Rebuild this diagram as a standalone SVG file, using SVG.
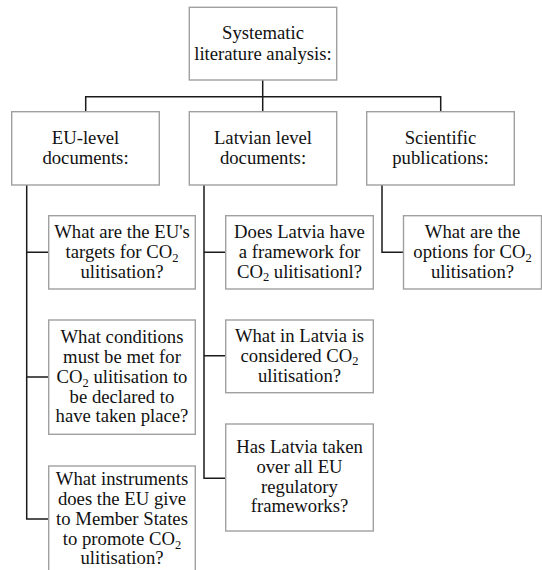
<svg xmlns="http://www.w3.org/2000/svg" width="542" height="570" viewBox="0 0 542 570">
<style>
.box{fill:#fff;stroke:#a0a0a0;stroke-width:1.4}
.t{font-family:'Liberation Serif','Times New Roman',Times,'DejaVu Serif',serif;font-size:18.7px;fill:#111;text-anchor:middle}
.sub{font-size:12.5px}
.c{fill:none;stroke:#1a1a1a;stroke-width:1.5}
</style>
<rect width="542" height="570" fill="#fff"/>
<g id="connectors">
<path class="c" d="M262.7 80V96.7M85.7 111.7V96.7H440.7V111.7M262.7 96.7V111.7"/>
<path class="c" d="M26.7 185V519H48.7M26.7 252.3H48.7M26.7 377H48.7"/>
<path class="c" d="M204 185V478.3H225.7M204 252.3H225.7M204 355.7H225.7"/>
<path class="c" d="M382 185V252.3H403.5"/>
</g>
<g id="root">
<rect class="box" x="189.3" y="7.3" width="147.4" height="72.7"/>
<text class="t" x="263" y="39.3">Systematic</text>
<text class="t" x="263" y="60">literature analysis:</text>
</g>
<g id="eu">
<rect class="box" x="11.7" y="111.7" width="147.6" height="73.3"/>
<text class="t" x="85.5" y="144">EU-level</text>
<text class="t" x="85.5" y="164">documents:</text>
</g>
<g id="lv">
<rect class="box" x="189.3" y="111.7" width="147.4" height="73.3"/>
<text class="t" x="263" y="144">Latvian level</text>
<text class="t" x="263" y="164">documents:</text>
</g>
<g id="sci">
<rect class="box" x="366.7" y="111.7" width="147.6" height="73.3"/>
<text class="t" x="440.5" y="144">Scientific</text>
<text class="t" x="440.5" y="164">publications:</text>
</g>
<g id="eu-q1">
<rect class="box" x="48.7" y="215.7" width="146.6" height="73.3"/>
<text class="t" x="122" y="238.3">What are the EU's</text>
<text class="t" x="122" y="258.3">targets for CO<tspan class="sub" dy="3.5">2</tspan></text>
<text class="t" x="122" y="277.5">ulitisation?</text>
</g>
<g id="eu-q2">
<rect class="box" x="48.7" y="320" width="146.6" height="114.3"/>
<text class="t" x="122" y="343.3">What conditions</text>
<text class="t" x="122" y="363.3">must be met for</text>
<text class="t" x="122" y="383.3">CO<tspan class="sub" dy="3.5">2</tspan><tspan dy="-3.5"> ulitisation to</tspan></text>
<text class="t" x="122" y="402.8">be declared to</text>
<text class="t" x="122" y="422.3">have taken place?</text>
</g>
<g id="eu-q3">
<rect class="box" x="48.7" y="466" width="146.6" height="114.3"/>
<text class="t" x="122" y="485.3">What instruments</text>
<text class="t" x="122" y="505">does the EU give</text>
<text class="t" x="122" y="525">to Member States</text>
<text class="t" x="122" y="545">to promote CO<tspan class="sub" dy="3.5">2</tspan></text>
<text class="t" x="122" y="564.3">ulitisation?</text>
</g>
<g id="lv-q1">
<rect class="box" x="225.7" y="215.7" width="147.6" height="73.3"/>
<text class="t" x="299.5" y="238.3">Does Latvia have</text>
<text class="t" x="299.5" y="258.3">a framework  for</text>
<text class="t" x="299.5" y="277.7">CO<tspan class="sub" dy="3.5">2</tspan><tspan dy="-3.5"> ulitisationl?</tspan></text>
</g>
<g id="lv-q2">
<rect class="box" x="225.7" y="320" width="147.6" height="72.7"/>
<text class="t" x="299.5" y="341.7">What in Latvia is</text>
<text class="t" x="299.5" y="361.7">considered CO<tspan class="sub" dy="3.5">2</tspan></text>
<text class="t" x="299.5" y="381.7">ulitisation?</text>
</g>
<g id="lv-q3">
<rect class="box" x="225.7" y="424" width="147.6" height="107"/>
<text class="t" x="299.5" y="453.3">Has Latvia taken</text>
<text class="t" x="299.5" y="473.3">over all EU</text>
<text class="t" x="299.5" y="492.7">regulatory</text>
<text class="t" x="299.5" y="512.3">frameworks?</text>
</g>
<g id="sci-q1">
<rect class="box" x="403.5" y="215.7" width="138" height="73.3"/>
<text class="t" x="472.5" y="238.3">What are the</text>
<text class="t" x="472.5" y="258.3">options for CO<tspan class="sub" dy="3.5">2</tspan></text>
<text class="t" x="472.5" y="277.5">ulitisation?</text>
</g>
</svg>
